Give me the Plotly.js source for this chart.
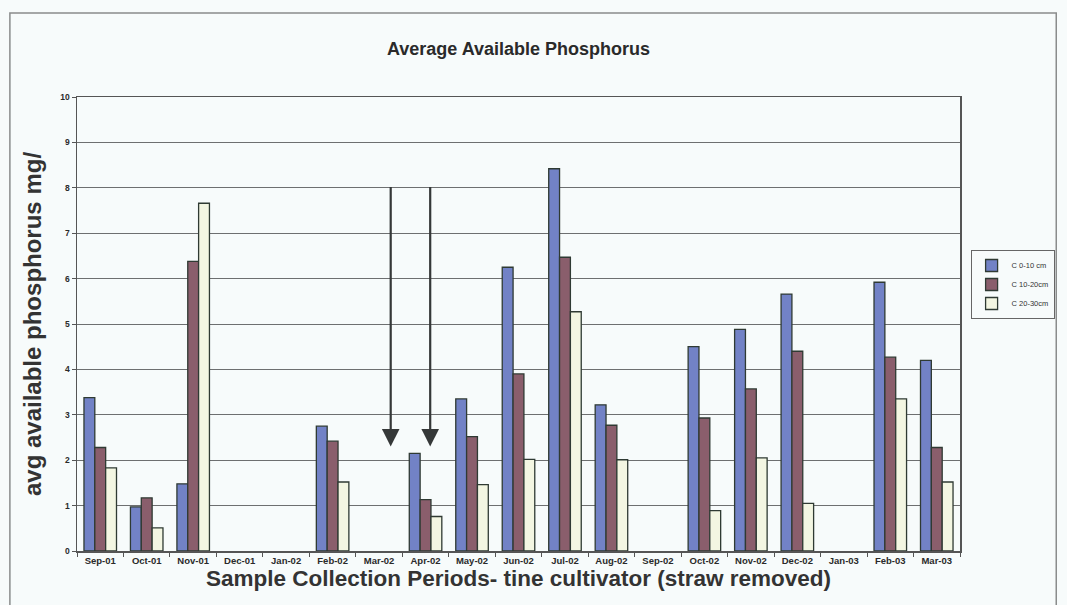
<!DOCTYPE html>
<html><head><meta charset="utf-8">
<script src="https://cdn.plot.ly/plotly-3.0.1.min.js"></script>
<style>html,body{margin:0;padding:0;background:#f7fbfb;}#chart{width:1067px;height:605px;}</style>
</head><body><div id="chart"></div>
<script>
const categories = ["Sep-01","Oct-01","Nov-01","Dec-01","Jan-02","Feb-02","Mar-02","Apr-02","May-02","Jun-02","Jul-02","Aug-02","Sep-02","Oct-02","Nov-02","Dec-02","Jan-03","Feb-03","Mar-03"];
const seriesNames = ["C 0-10 cm","C 10-20cm","C 20-30cm"];
const depth0_10  = [3.38, 0.97, 1.48, null, null, 2.75, null, 2.15, 3.35, 6.25, 8.42, 3.22, null, 4.5, 4.88, 5.66, null, 5.92, 4.2];
const depth10_20 = [2.28, 1.17, 6.38, null, null, 2.42, null, 1.13, 2.52, 3.9, 6.47, 2.77, null, 2.93, 3.57, 4.4, null, 4.27, 2.28];
const depth20_30 = [1.83, 0.51, 7.66, null, null, 1.52, null, 0.76, 1.46, 2.02, 5.27, 2.01, null, 0.89, 2.05, 1.05, null, 3.35, 1.52];
const arrowX = [6.25, 7.1];
const arrowTop = 8.05, arrowTip = 2.3;

const colors = ["#7282c6","#8a5e6c","#f3f6e2"];
const vals = [depth0_10, depth10_20, depth20_30];
const traces = vals.map((v,i)=>({
  type:"bar", x:categories, y:v, name:seriesNames[i],
  marker:{color:colors[i], line:{color:"#2f3a33", width:1.3}}
}));

const annotations = arrowX.map(ax=>({
  x:ax, y:arrowTip, ax:ax, ay:arrowTop, xref:"x", yref:"y", axref:"x", ayref:"y",
  showarrow:true, arrowhead:2, arrowsize:1.6, arrowwidth:2.2, arrowcolor:"#353838", text:""
}));

const layout = {
  width:1067, height:605,
  paper_bgcolor:"#f7fbfb", plot_bgcolor:"#f7fbfb",
  margin:{l:77, r:100, t:97, b:54},
  font:{family:"Liberation Sans, Arial, sans-serif", color:"#2a2a2a"},
  title:{text:"<b>Average Available Phosphorus</b>", x:0.5, xref:"paper", y:0.93, yref:"container", font:{size:18, color:"#2a2a2a"}},
  barmode:"group", bargap:0.3, bargroupgap:0,
  xaxis:{type:"category", tickson:"boundaries", ticks:"outside", ticklen:4, tickcolor:"#555",
    showline:true, linecolor:"#555", linewidth:1.5, mirror:true, showgrid:false,
    tickfont:{size:9.5, color:"#2a2a2a", weight:"bold"},
    tickangle:0,
    title:{text:"<b>Sample Collection Periods- tine cultivator (straw removed)</b>", standoff:2, font:{size:22.5, color:"#333"}}},
  yaxis:{range:[0,10], dtick:1, ticks:"outside", ticklen:4, tickcolor:"#555",
    showline:true, linecolor:"#555", linewidth:1.5, mirror:true,
    gridcolor:"#6d6f70", gridwidth:1, zeroline:false,
    tickfont:{size:8.5, color:"#2a2a2a", weight:"bold"},
    title:{text:"<b>avg available phosphorus mg/</b>", standoff:12, font:{size:24, color:"#333"}}},
  legend:{x:1.012, y:0.663, xanchor:"left", yanchor:"top", bgcolor:"#f7fbfb",
    bordercolor:"#666", borderwidth:1, font:{size:7.5, color:"#333"}, itemwidth:30},
  showlegend:true,
  annotations:annotations,
  shapes:[{type:"rect", xref:"paper", yref:"paper", x0:-0.076, x1:1.109, y0:-0.2, y1:1.185,
    line:{color:"#8a8c8c", width:1.5}, fillcolor:"rgba(0,0,0,0)"}]
};
Plotly.newPlot("chart", traces, layout, {displayModeBar:false, staticPlot:true});
</script></body></html>
